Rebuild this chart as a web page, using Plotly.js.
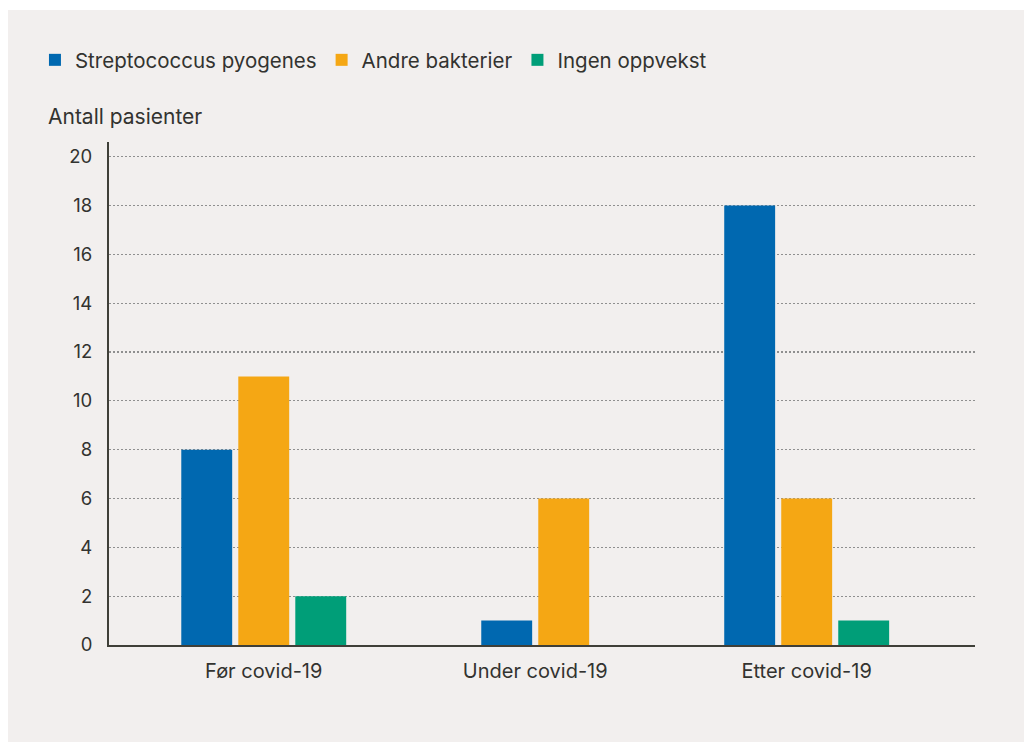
<!DOCTYPE html>
<html><head><meta charset="utf-8">
<script src="https://cdn.plot.ly/plotly-3.0.1.min.js"></script>
<style>html,body{margin:0;padding:0;background:#ffffff;}#chart{position:absolute;left:8px;top:10px;width:1016px;height:732px;}</style>
</head><body><div id="chart"></div>
<script>
const categories = ["Før covid-19", "Under covid-19", "Etter covid-19"];
const streptococcus = [8, 1, 18];
const andreBakterier = [11, 6, 6];
const ingenOppvekst = [2, null, 1];
const seriesNames = ["Streptococcus pyogenes", "Andre bakterier", "Ingen oppvekst"];
const yTicks = [0, 2, 4, 6, 8, 10, 12, 14, 16, 18, 20];
const yTitle = "Antall pasienter";

const colors = ["#0068b0", "#f5a714", "#009e78"];
const font = "Inter, 'Noto Sans', sans-serif";
const txt = "#333330";
const series = [streptococcus, andreBakterier, ingenOppvekst];
const barW = 0.1875, stride = 0.21;
// centre the bars that exist in each category
const offsets = series.map(() => []);
categories.forEach((c, j) => {
  const present = series.map((s, i) => s[j] != null ? i : -1).filter(i => i >= 0);
  present.forEach((i, k) => {
    offsets[i][j] = (k - (present.length - 1) / 2) * stride - barW / 2;
  });
  series.forEach((s, i) => { if (s[j] == null) offsets[i][j] = 0; });
});
const data = series.map((v, i) => ({
  type: "bar", x: categories, y: v, name: seriesNames[i],
  offset: offsets[i], width: barW,
  marker: {color: colors[i], line: {width: 0}}, hoverinfo: "skip"
}));
const layout = {
  width: 1016, height: 732,
  paper_bgcolor: "#f2efee", plot_bgcolor: "#f2efee",
  margin: {l: 101, r: 49, t: 132, b: 97},
  font: {family: font, size: 18, color: txt},
  barmode: "overlay",
  showlegend: true,
  legend: {orientation: "h", x: -0.0855, xanchor: "left", y: 1.163, yanchor: "middle",
           font: {family: font, size: 20.5, color: txt}, traceorder: "normal", itemwidth: 30},
  xaxis: {range: [-0.57, 2.62], showgrid: false, showline: true, linecolor: "#3f3f38", linewidth: 2,
          ticks: "", ticklabelstandoff: 7, tickfont: {family: font, size: 20, color: txt}, fixedrange: true},
  yaxis: {range: [0, 20.6], tickvals: yTicks, ticktext: yTicks.map(String), showline: true,
          linecolor: "#3f3f38", linewidth: 2, showgrid: true, gridcolor: "#8f8f8f", griddash: "1.5px,2.5px",
          gridwidth: 1.3, zeroline: false, ticks: "", ticklabelstandoff: 11,
          tickfont: {family: font, size: 18.5, color: txt}, fixedrange: true},
  annotations: [{text: yTitle, xref: "paper", yref: "paper", x: -0.0725, y: 1.022, xanchor: "left", yanchor: "bottom",
                 showarrow: false, font: {family: font, size: 21, color: txt}}]
};
Plotly.newPlot("chart", data, layout, {displayModeBar: false, staticPlot: true});
</script></body></html>
